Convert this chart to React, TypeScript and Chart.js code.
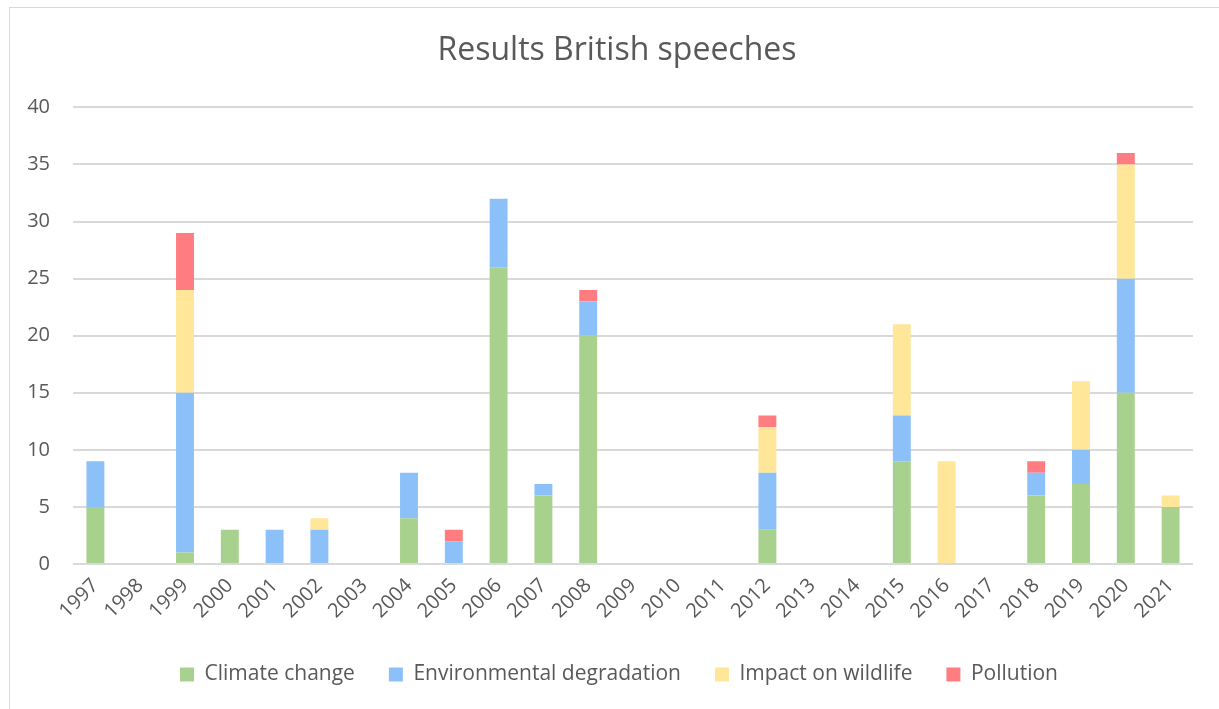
import React, { useEffect, useRef } from "react";
import { Chart, registerables } from "chart.js";

Chart.register(...registerables);

const years = [
  "1997", "1998", "1999", "2000", "2001", "2002", "2003", "2004", "2005",
  "2006", "2007", "2008", "2009", "2010", "2011", "2012", "2013", "2014",
  "2015", "2016", "2017", "2018", "2019", "2020", "2021",
];
const climateChange = [5, 0, 1, 3, 0, 0, 0, 4, 0, 26, 6, 20, 0, 0, 0, 3, 0, 0, 9, 0, 0, 6, 7, 15, 5];
const environmentalDegradation = [4, 0, 14, 0, 3, 3, 0, 4, 2, 6, 1, 3, 0, 0, 0, 5, 0, 0, 4, 0, 0, 2, 3, 10, 0];
const impactOnWildlife = [0, 0, 9, 0, 0, 1, 0, 0, 0, 0, 0, 0, 0, 0, 0, 4, 0, 0, 8, 9, 0, 0, 6, 10, 1];
const pollution = [0, 0, 5, 0, 0, 0, 0, 0, 1, 0, 0, 1, 0, 0, 0, 1, 0, 0, 0, 0, 0, 1, 0, 1, 0];
const yTicks = [0, 5, 10, 15, 20, 25, 30, 35, 40];

const FONT = "'Open Sans', 'DejaVu Sans', sans-serif";
const TEXT = "#595959";
const GRID = "#d9d9d9";

const shiftPlugin = {
  id: "shiftBlocks",
  afterLayout(chart: any) {
    const t = chart.titleBlock;
    if (t) {
      t.left += 16;
      t.right += 16;
    }
    const l = chart.legend;
    if (l) {
      l.left += 18;
      l.right += 18;
    }
  },
};

export default function App() {
  const ref = useRef<HTMLCanvasElement | null>(null);

  useEffect(() => {
    if (!ref.current) return;
    const mk = (label: string, data: number[], color: string) => ({
      label,
      data: data.map((v) => (v === 0 ? null : v)),
      backgroundColor: color,
      borderWidth: 0,
      barPercentage: 0.4,
      categoryPercentage: 1,
    });
    const chart = new Chart(ref.current, {
      type: "bar",
      data: {
        labels: years,
        datasets: [
          mk("Climate change", climateChange, "#a9d18e"),
          mk("Environmental degradation", environmentalDegradation, "#8bc1f8"),
          mk("Impact on wildlife", impactOnWildlife, "#ffe699"),
          mk("Pollution", pollution, "#ff7c80"),
        ],
      },
      plugins: [shiftPlugin],
      options: {
        animation: false,
        responsive: false,
        maintainAspectRatio: false,
        layout: { padding: { left: 9, right: 26, top: 0, bottom: 14 } },
        plugins: {
          title: {
            display: true,
            text: "Results British speeches",
            color: TEXT,
            font: { family: FONT, size: 32, weight: "normal" },
            padding: { top: 32, bottom: 37 },
          },
          legend: {
            position: "bottom",
            labels: {
              color: TEXT,
              font: { family: FONT, size: 21 },
              boxWidth: 14,
              boxHeight: 14,
              padding: 34,
            },
          },
          tooltip: { enabled: false },
        },
        scales: {
          x: {
            stacked: true,
            grid: { display: false },
            border: { display: false },
            ticks: {
              color: TEXT,
              font: { family: FONT, size: 20 },
              maxRotation: 45,
              minRotation: 45,
              autoSkip: false,
              padding: 2,
            },
            afterFit: (s: any) => {
              s.height = 66;
            },
          },
          y: {
            stacked: true,
            min: 0,
            max: 40,
            afterBuildTicks: (s: any) => {
              s.ticks = yTicks.map((v) => ({ value: v }));
            },
            grid: { color: GRID, lineWidth: 2, drawTicks: false },
            border: { display: false },
            ticks: {
              color: TEXT,
              font: { family: FONT, size: 20 },
              padding: 23,
            },
            afterFit: (s: any) => {
              s.width = 64;
            },
          },
        },
      },
    });
    return () => chart.destroy();
  }, []);

  return (
    <div style={{ position: "absolute", left: 0, top: 0, width: 1219, height: 709, background: "#fff", overflow: "hidden" }}>
      <div
        style={{
          position: "absolute",
          left: 9,
          top: 7,
          width: 1230,
          height: 720,
          border: "1px solid #d9d9d9",
        }}
      />
      <canvas ref={ref} width={1219} height={709} style={{ position: "absolute", left: 0, top: 0 }} />
    </div>
  );
}
